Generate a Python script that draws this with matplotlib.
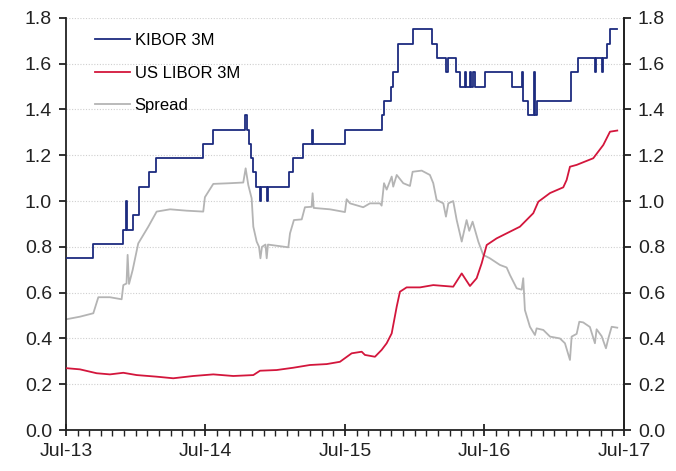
import matplotlib
matplotlib.use("Agg")
import matplotlib.pyplot as plt
import numpy as np
from matplotlib.ticker import FixedLocator, FuncFormatter

plt.rcParams['font.family'] = ['Liberation Sans', 'DejaVu Sans']

# ---- data (x in decimal years, 2013.5 = Jul-13) ----
kibor_t = [2013.500, 2013.696, 2013.906, 2013.932, 2013.941, 2013.978, 2014.025, 2014.097,
           2014.145, 2014.484, 2014.556, 2014.785, 2014.795, 2014.812, 2014.823, 2014.841,
           2014.862, 2014.891, 2014.900, 2014.939, 2014.948, 2015.096, 2015.125, 2015.201,
           2015.263, 2015.273, 2015.500, 2015.763, 2015.782, 2015.830, 2015.846, 2015.882,
           2015.985, 2016.122, 2016.157, 2016.224, 2016.236, 2016.296, 2016.324, 2016.360,
           2016.371, 2016.396, 2016.407, 2016.420, 2016.432, 2016.504, 2016.695, 2016.771,
           2016.778, 2016.814, 2016.855, 2016.862, 2016.874, 2017.118, 2017.172, 2017.292,
           2017.303, 2017.340, 2017.349, 2017.376, 2017.400, 2017.452]
kibor_v = [0.75, 0.8125, 0.875, 1.0, 0.875, 0.9375, 1.0625, 1.125,
           1.1875, 1.25, 1.3125, 1.375, 1.3125, 1.25, 1.1875, 1.125,
           1.0625, 1.0, 1.0625, 1.0, 1.0625, 1.125, 1.1875, 1.25,
           1.3125, 1.25, 1.3125, 1.375, 1.4375, 1.5, 1.5625, 1.6875,
           1.75, 1.6875, 1.625, 1.5625, 1.625, 1.5625, 1.5, 1.5625,
           1.5, 1.5625, 1.5, 1.5625, 1.5, 1.5625, 1.5, 1.5625,
           1.4375, 1.375, 1.5625, 1.375, 1.4375, 1.5625, 1.625, 1.5625,
           1.625, 1.5625, 1.625, 1.6875, 1.75, 1.75]

libor_t = [2013.505, 2013.600, 2013.720, 2013.815, 2013.911, 2014.007, 2014.150, 2014.269,
           2014.413, 2014.556, 2014.699, 2014.843, 2014.891, 2015.010, 2015.129, 2015.249,
           2015.369, 2015.464, 2015.548, 2015.620, 2015.643, 2015.715, 2015.763, 2015.799,
           2015.835, 2015.871, 2015.894, 2015.942, 2016.038, 2016.133, 2016.276, 2016.337,
           2016.396, 2016.444, 2016.480, 2016.516, 2016.587, 2016.659, 2016.754, 2016.850,
           2016.886, 2016.970, 2017.065, 2017.089, 2017.113, 2017.161, 2017.280, 2017.352,
           2017.400, 2017.452]
libor_v = [0.270, 0.265, 0.248, 0.243, 0.250, 0.240, 0.233, 0.226,
           0.236, 0.243, 0.236, 0.240, 0.259, 0.262, 0.272, 0.284,
           0.288, 0.298, 0.335, 0.342, 0.328, 0.320, 0.350, 0.379,
           0.422, 0.539, 0.604, 0.623, 0.623, 0.633, 0.626, 0.684,
           0.629, 0.663, 0.728, 0.808, 0.837, 0.859, 0.888, 0.947,
           0.997, 1.035, 1.060, 1.092, 1.150, 1.158, 1.187, 1.245,
           1.303, 1.308]

spread_t = [2013.505, 2013.600, 2013.696, 2013.732, 2013.815, 2013.899, 2013.911, 2013.934,
            2013.942, 2013.952, 2013.978, 2014.018, 2014.090, 2014.150, 2014.246, 2014.365,
            2014.484, 2014.496, 2014.556, 2014.676, 2014.771, 2014.788, 2014.807, 2014.831,
            2014.843, 2014.867, 2014.884, 2014.894, 2014.905, 2014.930, 2014.939, 2014.948,
            2015.094, 2015.106, 2015.134, 2015.190, 2015.213, 2015.261, 2015.268, 2015.276,
            2015.392, 2015.500, 2015.512, 2015.536, 2015.631, 2015.679, 2015.751, 2015.763,
            2015.780, 2015.799, 2015.835, 2015.846, 2015.871, 2015.918, 2015.966, 2015.985,
            2016.050, 2016.109, 2016.133, 2016.157, 2016.205, 2016.224, 2016.241, 2016.276,
            2016.301, 2016.337, 2016.372, 2016.391, 2016.415, 2016.456, 2016.491, 2016.539,
            2016.611, 2016.659, 2016.683, 2016.731, 2016.767, 2016.778, 2016.790, 2016.826,
            2016.862, 2016.874, 2016.922, 2016.970, 2017.041, 2017.077, 2017.113, 2017.125,
            2017.161, 2017.180, 2017.208, 2017.256, 2017.292, 2017.304, 2017.340, 2017.371,
            2017.388, 2017.412, 2017.452]
spread_v = [0.484, 0.495, 0.510, 0.580, 0.580, 0.571, 0.633, 0.640,
            0.765, 0.638, 0.699, 0.815, 0.888, 0.954, 0.964, 0.958,
            0.954, 1.017, 1.075, 1.078, 1.081, 1.143, 1.070, 1.012,
            0.888, 0.823, 0.800, 0.750, 0.800, 0.810, 0.750, 0.810,
            0.798, 0.859, 0.917, 0.920, 0.973, 0.975, 1.034, 0.970,
            0.964, 0.952, 1.008, 0.990, 0.973, 0.990, 0.990, 0.980,
            1.078, 1.050, 1.107, 1.063, 1.114, 1.078, 1.066, 1.128,
            1.133, 1.114, 1.078, 1.005, 0.990, 0.932, 0.990, 1.000,
            0.917, 0.823, 0.917, 0.870, 0.910, 0.823, 0.765, 0.750,
            0.721, 0.710, 0.677, 0.619, 0.613, 0.663, 0.524, 0.451,
            0.415, 0.444, 0.437, 0.408, 0.400, 0.379, 0.306, 0.408,
            0.420, 0.473, 0.470, 0.450, 0.379, 0.440, 0.410, 0.357,
            0.400, 0.451, 0.447]

x_ticks = [2013.5, 2014.5, 2015.5, 2016.5, 2017.5]
x_labels = ["Jul-13", "Jul-14", "Jul-15", "Jul-16", "Jul-17"]
y_ticks = [0.0, 0.2, 0.4, 0.6, 0.8, 1.0, 1.2, 1.4, 1.6, 1.8]

# ---- figure ----
fig = plt.figure(figsize=(6.76, 4.71), dpi=100)
ax = fig.add_axes([0.0976, 0.087, 0.8254, 0.875])

c_kibor = '#1c2b7f'
c_libor = '#d3163c'
c_spread = '#b4b4b4'

ax.plot(kibor_t, kibor_v, drawstyle='steps-post', color=c_kibor, lw=1.3, label='KIBOR 3M', zorder=3)
ax.plot(libor_t, libor_v, color=c_libor, lw=1.3, label='US LIBOR 3M', zorder=3)
ax.plot(spread_t, spread_v, color=c_spread, lw=1.3, label='Spread', zorder=2)

ax.set_xlim(2013.5, 2017.5)
ax.set_ylim(0, 1.8)
ax.set_yticks(y_ticks)
ax.yaxis.set_major_formatter(FuncFormatter(lambda v, p: f"{v:.1f}"))
ax.set_xticks(x_ticks)
ax.set_xticklabels(x_labels)
ax.xaxis.set_minor_locator(FixedLocator([2013.5 + i / 12 for i in range(49)]))

ax.grid(axis='y', color='#cfcfcf', linestyle=(0, (1, 1.5)), lw=0.8, zorder=0)
ax.spines['top'].set_visible(False)
for s in ['left', 'right', 'bottom']:
    ax.spines[s].set_linewidth(1.3)
    ax.spines[s].set_color('#222222')

ax.tick_params(axis='y', direction='out', length=5, width=1.3, labelsize=14, pad=5, colors='#222222')
ax.tick_params(axis='x', which='major', direction='inout', length=9, width=1.3, labelsize=14, pad=5, colors='#222222')
ax.tick_params(axis='x', which='minor', direction='out', length=4, width=1.0, colors='#222222')

ax2 = ax.twinx()
ax2.set_ylim(0, 1.8)
ax2.set_yticks(y_ticks)
ax2.yaxis.set_major_formatter(FuncFormatter(lambda v, p: f"{v:.1f}"))
ax2.tick_params(axis='y', direction='out', length=5, width=1.3, labelsize=14, pad=5, colors='#222222')
for s in ['left', 'top', 'bottom']:
    ax2.spines[s].set_visible(False)
ax2.spines['right'].set_linewidth(1.3)
ax2.spines['right'].set_color('#222222')

leg = ax.legend(loc='upper left', bbox_to_anchor=(0.032, 0.991), frameon=False, fontsize=12,
                handlelength=2.1, handletextpad=0.25, labelspacing=1.05, borderaxespad=0.3)

fig.savefig("out.png", dpi=100)
